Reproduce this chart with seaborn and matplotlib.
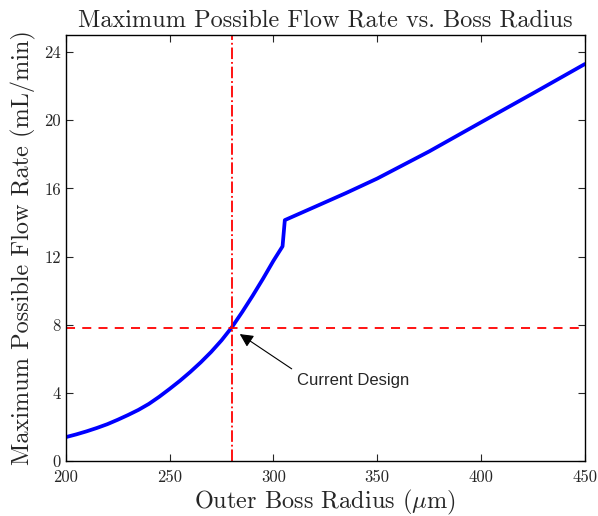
import matplotlib
matplotlib.use("Agg")
import matplotlib.pyplot as plt
import seaborn as sns
import pandas as pd

radius = [200, 205, 210, 215, 220, 225, 230, 235, 240, 245, 250, 255, 260, 265, 270, 275, 280,
          285, 290, 295, 300, 304.4, 305.5, 320, 335, 350, 375, 400, 425, 450]
flow = [1.4, 1.56, 1.74, 1.94, 2.16, 2.42, 2.7, 3.0, 3.35, 3.77, 4.23, 4.71, 5.23, 5.79, 6.4, 7.08, 7.85,
        8.75, 9.7, 10.7, 11.75, 12.6, 14.14, 14.92, 15.73, 16.58, 18.17, 19.88, 21.58, 23.3]
design_radius = 280
design_flow = 7.8
x_ticks = [200, 250, 300, 350, 400, 450]
y_ticks = [0, 4, 8, 12, 16, 20, 24]

sns.set_style("ticks")
plt.rcParams["mathtext.fontset"] = "cm"
plt.rcParams["axes.unicode_minus"] = False

df = pd.DataFrame({"radius": radius, "flow": flow})

fig = plt.figure(figsize=(5.98, 5.16), dpi=100)
ax = fig.add_axes([0.110, 0.1066, 0.868, 0.8254])

sns.lineplot(data=df, x="radius", y="flow", ax=ax, color="#0000ff", linewidth=2.7, sort=False)
ax.axvline(design_radius, color="red", linestyle="-.", linewidth=1.3)
ax.axhline(design_flow, color="red", linestyle=(0, (5, 4)), linewidth=1.3)

ax.annotate("Current Design", xy=(283.8, 7.45), xytext=(311.5, 4.75),
            fontsize=12, family="Liberation Sans", va="center", ha="left",
            arrowprops=dict(arrowstyle="-|>", color="black", lw=0.8, mutation_scale=20,
                            shrinkA=2, shrinkB=0, relpos=(0.0, 1.0)))

ax.set_xlim(200, 450)
ax.set_ylim(0, 25)
ax.set_xticks(x_ticks)
ax.set_yticks(y_ticks)
ax.set_xticklabels([str(v) for v in x_ticks], family="cmr10")
ax.set_yticklabels([str(v) for v in y_ticks], family="cmr10")
ax.tick_params(direction="in", top=True, right=True, length=5, width=0.8, labelsize=12)
ax.tick_params(axis="x", pad=6)
for s in ax.spines.values():
    s.set_linewidth(1.0)
    s.set_color("black")

ax.set_title("Maximum Possible Flow Rate vs. Boss Radius", family="cmr10", fontsize=17.5, pad=6)
ax.set_xlabel(r"Outer Boss Radius ($\mu$m)", family="cmr10", fontsize=17.5, labelpad=2)
ax.set_ylabel("Maximum Possible Flow Rate (mL/min)", family="cmr10", fontsize=17.5, labelpad=6)

fig.savefig("out.png", dpi=100)
